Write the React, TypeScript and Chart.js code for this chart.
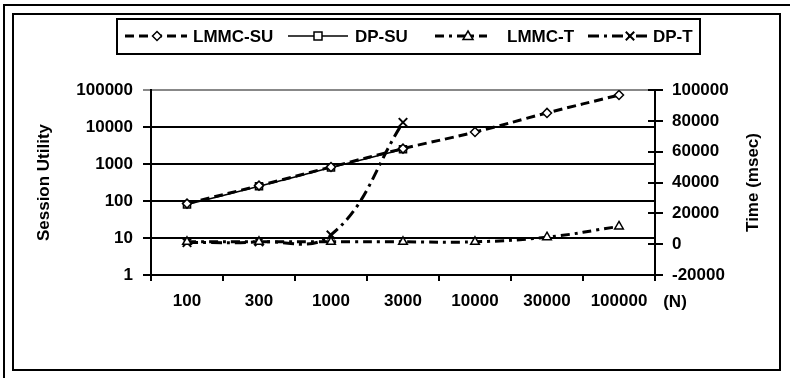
import React, { useEffect, useRef } from "react";
import { Chart, registerables } from "chart.js";

Chart.register(...registerables);

const categories = ["100", "300", "1000", "3000", "10000", "30000", "100000"];
const lmmcSU = [85, 260, 830, 2600, 7300, 24000, 73000];
const dpSU = [80, 250, 800, 2500];
const lmmcT = [1500, 1500, 1500, 1500, 1500, 4500, 11500];
const dpT = [1000, 1500, 6000, 79000];
const leftTicks = [1, 10, 100, 1000, 10000, 100000];
const rightMin = -20000;
const rightMax = 100000;
const rightStep = 20000;

const FONT = 'bold 17px "Liberation Sans", Arial, sans-serif';

function marker(ctx: CanvasRenderingContext2D, style: string, x: number, y: number, r: number) {
  ctx.save();
  ctx.fillStyle = "#fff";
  ctx.strokeStyle = "#000";
  ctx.lineWidth = 1.5;
  ctx.setLineDash([]);
  ctx.beginPath();
  if (style === "rectRot") {
    ctx.moveTo(x, y - r); ctx.lineTo(x + r, y); ctx.lineTo(x, y + r); ctx.lineTo(x - r, y); ctx.closePath();
    ctx.fill(); ctx.stroke();
  } else if (style === "rect") {
    ctx.rect(x - r * 0.8, y - r * 0.8, r * 1.6, r * 1.6); ctx.fill(); ctx.stroke();
  } else if (style === "triangle") {
    ctx.moveTo(x, y - r); ctx.lineTo(x + r, y + r * 0.7); ctx.lineTo(x - r, y + r * 0.7); ctx.closePath();
    ctx.fill(); ctx.stroke();
  } else {
    ctx.lineWidth = 2;
    ctx.moveTo(x - r * 0.7, y - r * 0.7); ctx.lineTo(x + r * 0.7, y + r * 0.7);
    ctx.moveTo(x + r * 0.7, y - r * 0.7); ctx.lineTo(x - r * 0.7, y + r * 0.7);
    ctx.stroke();
  }
  ctx.restore();
}

const legendLayout = [
  { s: 125, e: 187, m: 157, t: 193 },
  { s: 288, e: 348, m: 318, t: 355 },
  { s: 435, e: 487, m: 468, t: 507 },
  { s: 588, e: 650, m: 630, t: 653 },
];

const decorPlugin = {
  id: "decor",
  beforeDraw(chart: any) {
    const ctx = chart.ctx;
    ctx.save();
    ctx.fillStyle = "#fff";
    ctx.fillRect(0, 0, chart.width, chart.height);
    ctx.restore();
  },
  afterDraw(chart: any) {
    const ctx: CanvasRenderingContext2D = chart.ctx;
    const area = chart.chartArea;
    ctx.save();
    ctx.strokeStyle = "#000";
    ctx.lineWidth = 2;
    ctx.strokeRect(4, 5, 820, 420);
    ctx.strokeRect(13, 14, 767, 356);
    ctx.strokeRect(117, 19, 583, 35);

    // legend
    const ly = 36;
    chart.data.datasets.forEach((ds: any, i: number) => {
      const L = legendLayout[i];
      ctx.save();
      ctx.strokeStyle = "#000";
      ctx.lineWidth = ds.borderWidth;
      ctx.setLineDash(ds.borderDash || []);
      ctx.beginPath();
      ctx.moveTo(L.s, ly);
      ctx.lineTo(L.e, ly);
      ctx.stroke();
      ctx.restore();
      marker(ctx, ds.pointStyle, L.m, ly, ds.pointRadius);
      ctx.fillStyle = "#000";
      ctx.font = FONT;
      ctx.textAlign = "left";
      ctx.textBaseline = "middle";
      ctx.fillText(ds.label, L.t, ly + 1);
    });

    // axis titles
    const cy = (area.top + area.bottom) / 2;
    ctx.fillStyle = "#000";
    ctx.font = FONT;
    ctx.textAlign = "center";
    ctx.textBaseline = "middle";
    ctx.save();
    ctx.translate(44, cy);
    ctx.rotate(-Math.PI / 2);
    ctx.fillText("Session Utility", 0, 0);
    ctx.restore();
    ctx.save();
    ctx.translate(753, cy);
    ctx.rotate(-Math.PI / 2);
    ctx.fillText("Time (msec)", 0, 0);
    ctx.restore();
    ctx.fillText("(N)", 675, 302);

    // inner half of right-axis ticks
    const y2 = chart.scales.y2;
    ctx.lineWidth = 2;
    y2.ticks.forEach((t: any) => {
      const yy = Math.round(y2.getPixelForValue(t.value));
      ctx.beginPath();
      ctx.moveTo(area.right - 7, yy);
      ctx.lineTo(area.right, yy);
      ctx.stroke();
    });
    ctx.restore();
  },
};

export default function App() {
  const ref = useRef<HTMLCanvasElement | null>(null);
  useEffect(() => {
    if (!ref.current) return;
    const chart = new Chart(ref.current, {
      type: "line",
      data: {
        labels: categories,
        datasets: [
          {
            label: "LMMC-SU",
            data: lmmcSU,
            yAxisID: "y",
            borderColor: "#000",
            borderWidth: 3,
            borderDash: [9, 5],
            pointStyle: "rectRot",
            pointRadius: 4.5,
            pointBackgroundColor: "#fff",
            pointBorderColor: "#000",
            pointBorderWidth: 1.5,
            tension: 0.4,
            fill: false,
          },
          {
            label: "DP-SU",
            data: dpSU,
            yAxisID: "y",
            borderColor: "#000",
            borderWidth: 1.5,
            borderDash: [],
            pointStyle: "rect",
            pointRadius: 5,
            pointBackgroundColor: "#fff",
            pointBorderColor: "#000",
            pointBorderWidth: 1.5,
            tension: 0.4,
            fill: false,
          },
          {
            label: "LMMC-T",
            data: lmmcT,
            yAxisID: "y2",
            borderColor: "#000",
            borderWidth: 3,
            borderDash: [9, 5, 3, 5],
            pointStyle: "triangle",
            pointRadius: 5,
            pointBackgroundColor: "#fff",
            pointBorderColor: "#000",
            pointBorderWidth: 1.5,
            tension: 0.4,
            fill: false,
          },
          {
            label: "DP-T",
            data: dpT,
            yAxisID: "y2",
            borderColor: "#000",
            borderWidth: 3,
            borderDash: [11, 5, 3, 5],
            pointStyle: "crossRot",
            pointRadius: 6,
            pointBackgroundColor: "#fff",
            pointBorderColor: "#000",
            pointBorderWidth: 2,
            tension: 0.4,
            fill: false,
          },
        ],
      },
      options: {
        animation: false,
        responsive: false,
        devicePixelRatio: 1,
        layout: { padding: { top: 90, left: 0, right: 0, bottom: 0 } },
        plugins: { legend: { display: false }, tooltip: { enabled: false }, title: { display: false } },
        scales: {
          x: {
            type: "category",
            offset: true,
            grid: { offset: true, drawOnChartArea: false, color: "#000", lineWidth: 2, tickLength: 6 },
            border: { color: "#000", width: 2 },
            ticks: { color: "#000", font: { family: '"Liberation Sans", Arial, sans-serif', size: 17, weight: "bold" }, padding: 10, maxRotation: 0, autoSkip: false },
            afterFit: (s: any) => { s.height = 103; },
          },
          y: {
            type: "logarithmic",
            position: "left",
            min: 1,
            max: 100000,
            afterBuildTicks: (s: any) => { s.ticks = leftTicks.map((v) => ({ value: v })); },
            ticks: {
              color: "#000",
              font: { family: '"Liberation Sans", Arial, sans-serif', size: 17, weight: "bold" },
              padding: 10,
              callback: (v: any) => String(v),
            },
            grid: {
              color: (c: any) => (c.tick && c.tick.value === 100000 ? "#888" : "#000"),
              lineWidth: 2,
              tickLength: 8,
            },
            border: { color: "#000", width: 2 },
            afterFit: (s: any) => { s.width = 151; },
          },
          y2: {
            type: "linear",
            position: "right",
            min: rightMin,
            max: rightMax,
            ticks: {
              stepSize: rightStep,
              color: "#000",
              font: { family: '"Liberation Sans", Arial, sans-serif', size: 17, weight: "bold" },
              padding: 9,
              callback: (v: any) => String(v),
            },
            grid: { drawOnChartArea: false, color: "#000", lineWidth: 2, tickLength: 8 },
            border: { color: "#000", width: 2 },
            afterFit: (s: any) => { s.width = 135; },
          },
        },
      } as any,
      plugins: [decorPlugin],
    });
    return () => chart.destroy();
  }, []);
  return (
    <div style={{ position: "fixed", left: 0, top: 0, width: 790, height: 378, background: "#fff" }}>
      <canvas ref={ref} width={790} height={378} style={{ width: 790, height: 378, display: "block" }} />
    </div>
  );
}
